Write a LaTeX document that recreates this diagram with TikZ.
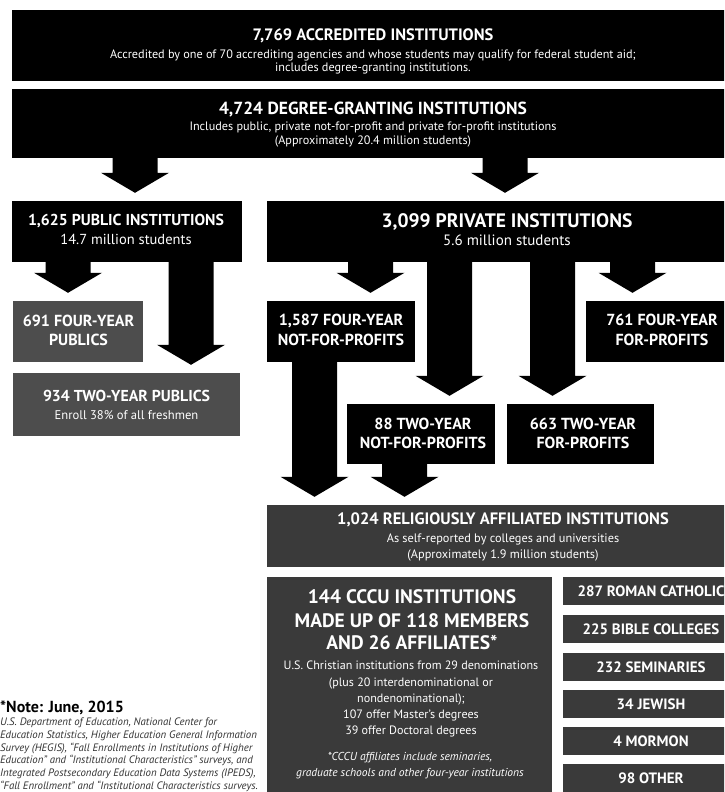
\documentclass[tikz,border=0pt]{standalone}
\usepackage{fontspec}
\setmainfont{PT Sans}
\usetikzlibrary{calc}
\definecolor{boxblack}{HTML}{000000}
\definecolor{midgray}{HTML}{4D4D4D}
\definecolor{deepgray}{HTML}{3A3A3A}
\definecolor{notegray}{HTML}{333333}
\tikzset{
  blackbox/.style={fill=boxblack, draw=none, inner sep=0pt},
  graybox/.style={fill=midgray, draw=none, inner sep=0pt},
  deepbox/.style={fill=deepgray, draw=none, inner sep=0pt},
  txt/.style={text=white, inner sep=0pt, anchor=base},
  midttl/.style={txt, font=\fontsize{16pt}{19pt}\selectfont\bfseries},
  subtxt/.style={txt, font=\fontsize{12.2pt}{14pt}\selectfont},
  reltxt/.style={txt, font=\fontsize{12.3pt}{14pt}\selectfont},
  cccuttl/.style={txt, font=\fontsize{19.5pt}{22pt}\selectfont\bfseries},
  cccubody/.style={txt, font=\fontsize{12.1pt}{14pt}\selectfont},
  cccuital/.style={txt, font=\fontsize{11.5pt}{14pt}\selectfont\itshape},
  sidettl/.style={txt, font=\fontsize{15pt}{17pt}\selectfont\bfseries},
  fatarrow/.style={fill=boxblack, draw=none},
  notettl/.style={text=black, inner sep=0pt, anchor=base west, font=\fontsize{16pt}{18pt}\selectfont\bfseries},
  notetxt/.style={text=notegray, inner sep=0pt, anchor=base west, font=\fontsize{10.8pt}{13pt}\selectfont\itshape},
}
% #1 = x of arrow axis, #2 = source node, #3 = target node
\newcommand\fatarrowdraw[3]{%
  \coordinate (ax) at (#1,0);
  \fill[fatarrow] ($(#2.south -| ax)+(-22.5,-1)$) -- ($(#3.north -| ax)+(-22.5,-28)$)
    -- ($(#3.north -| ax)+(-34,-28)$) -- ($(#3.north -| ax)+(0,-8)$)
    -- ($(#3.north -| ax)+(34,-28)$) -- ($(#3.north -| ax)+(22.5,-28)$)
    -- ($(#2.south -| ax)+(22.5,-1)$) -- cycle;
}
\begin{document}
\begin{tikzpicture}[x=1pt,y=-1pt]
\useasboundingbox (0,0) rectangle (724,792);
\fill[white] (0,0) rectangle (724,792);
\clip (0,0) rectangle (724,792);

% boxes
\node[blackbox, minimum width=728pt, minimum height=71pt] (b1) at (376,45.5) {};
\node[blackbox, minimum width=728pt, minimum height=69pt] (b2) at (376,123.5) {};
\node[blackbox, minimum width=230pt, minimum height=61pt] (pub) at (127,231.5) {};
\node[blackbox, minimum width=480pt, minimum height=61pt] (priv) at (507,231.5) {};
\node[graybox, minimum width=130pt, minimum height=61pt] (p4) at (78,331.5) {};
\node[graybox, minimum width=227pt, minimum height=63pt] (p2) at (126.5,404.5) {};
\node[blackbox, minimum width=148pt, minimum height=61pt] (n4) at (341,331.5) {};
\node[blackbox, minimum width=152pt, minimum height=61pt] (f4) at (662,331.5) {};
\node[blackbox, minimum width=148pt, minimum height=60pt] (n2) at (421,434) {};
\node[blackbox, minimum width=147pt, minimum height=60pt] (f2) at (580.5,434) {};
\node[deepbox, minimum width=473pt, minimum height=62pt] (rel) at (503.5,536) {};
\node[deepbox, minimum width=285pt, minimum height=223pt] (cccu) at (409.5,688.5) {};
\node[deepbox, minimum width=176pt, minimum height=28pt] (r1) at (651,591) {};
\node[deepbox, minimum width=176pt, minimum height=28pt] (r2) at (651,629) {};
\node[deepbox, minimum width=176pt, minimum height=28pt] (r3) at (651,667) {};
\node[deepbox, minimum width=176pt, minimum height=28pt] (r4) at (651,704) {};
\node[deepbox, minimum width=176pt, minimum height=28pt] (r5) at (651,741) {};
\node[deepbox, minimum width=176pt, minimum height=28pt] (r6) at (651,778) {};

% arrows
\fatarrowdraw{135}{b2}{pub}
\fatarrowdraw{505}{b2}{priv}
\fatarrowdraw{68}{pub}{p4}
\fatarrowdraw{191}{pub}{p2}
\fatarrowdraw{370.5}{priv}{n4}
\fatarrowdraw{449.5}{priv}{n2}
\fatarrowdraw{552.5}{priv}{f2}
\fatarrowdraw{632.5}{priv}{f4}
\fatarrowdraw{314.5}{n4}{rel}
\fatarrowdraw{404.5}{n2}{rel}

% texts
\node[txt, font=\fontsize{16.5pt}{19pt}\selectfont\bfseries] (b1t) at (373,40.8) {7,769 ACCREDITED INSTITUTIONS};
\node[subtxt] (b1s1) at (373,58.3) {Accredited by one of 70 accrediting agencies and whose students may qualify for federal student aid;};
\node[subtxt] (b1s2) at (373,71.3) {includes degree-granting institutions.};
\node[txt, font=\fontsize{17.5pt}{20pt}\selectfont\bfseries] (b2t) at (373,114) {4,724 DEGREE-GRANTING INSTITUTIONS};
\node[subtxt] (b2s1) at (373,130.3) {Includes public, private not-for-profit and private for-profit institutions};
\node[subtxt] (b2s2) at (373,144.3) {(Approximately 20.4 million students)};

\node[txt, font=\fontsize{15.8pt}{18pt}\selectfont\bfseries] (pubt) at (126,225.5) {1,625 PUBLIC INSTITUTIONS};
\node[txt, font=\fontsize{14.5pt}{17pt}\selectfont] (pubs) at (126,244) {14.7 million students};
\node[txt, font=\fontsize{19.5pt}{22pt}\selectfont\bfseries] (privt) at (507,227.8) {3,099 PRIVATE INSTITUTIONS};
\node[txt, font=\fontsize{15pt}{17pt}\selectfont] (privs) at (507,245) {5.6 million students};

\node[midttl] (p4a) at (78.5,326.6) {691 FOUR-YEAR};
\node[midttl] (p4b) at (78.5,345.6) {PUBLICS};
\node[txt, font=\fontsize{15.8pt}{18pt}\selectfont\bfseries] (p2a) at (126.5,401.5) {934 TWO-YEAR PUBLICS};
\node[txt, font=\fontsize{12.6pt}{15pt}\selectfont] (p2b) at (126.5,419.4) {Enroll 38\% of all freshmen};

\node[midttl] (n4a) at (341,325.6) {1,587 FOUR-YEAR};
\node[midttl] (n4b) at (341,345.6) {NOT-FOR-PROFITS};
\node[midttl] (f4a) at (662,325.6) {761 FOUR-YEAR};
\node[midttl] (f4b) at (662,345.6) {FOR-PROFITS};
\node[midttl] (n2a) at (423,429.6) {88 TWO-YEAR};
\node[midttl] (n2b) at (423,448.6) {NOT-FOR-PROFITS};
\node[midttl] (f2a) at (583,429.6) {663 TWO-YEAR};
\node[midttl] (f2b) at (583,448.6) {FOR-PROFITS};

\node[txt, font=\fontsize{16.5pt}{19pt}\selectfont\bfseries] (relt) at (503,524.8) {1,024 RELIGIOUSLY AFFILIATED INSTITUTIONS};
\node[reltxt] (rels1) at (503,542.3) {As self-reported by colleges and universities};
\node[reltxt] (rels2) at (503,558.3) {(Approximately 1.9 million students)};

\node[cccuttl] (ct1) at (412,603.8) {144 CCCU INSTITUTIONS};
\node[cccuttl] (ct2) at (412,627.8) {MADE UP OF 118 MEMBERS};
\node[cccuttl] (ct3) at (412,649.8) {AND 26 AFFILIATES*};
\node[cccubody] (cb1) at (411,669.2) {U.S. Christian institutions from 29 denominations};
\node[cccubody] (cb2) at (411,686.2) {(plus 20 interdenominational or};
\node[cccubody] (cb3) at (411,702.2) {nondenominational);};
\node[cccubody] (cb4) at (411,718.2) {107 offer Master’s degrees};
\node[cccubody] (cb5) at (411,734.2) {39 offer Doctoral degrees};
\node[cccuital] (ci1) at (410,760) {*CCCU affiliates include seminaries,};
\node[cccuital] (ci2) at (410,776) {graduate schools and other four-year institutions};

\node[sidettl] (r1t) at (651,596.2) {287 ROMAN CATHOLIC};
\node[sidettl] (r2t) at (651,634.2) {225 BIBLE COLLEGES};
\node[sidettl] (r3t) at (651,672.2) {232 SEMINARIES};
\node[sidettl] (r4t) at (651,709.2) {34 JEWISH};
\node[sidettl] (r5t) at (651,746.2) {4 MORMON};
\node[sidettl] (r6t) at (651,783.2) {98 OTHER};

% note
\node[notettl] (nt) at (0,712.6) {*Note: June, 2015};
\node[notetxt] (nl1) at (0,725.8) {U.S. Department of Education, National Center for};
\node[notetxt] (nl2) at (0,738.8) {Education Statistics, Higher Education General Information};
\node[notetxt] (nl3) at (0,751.8) {Survey (HEGIS), “Fall Enrollments in Institutions of Higher};
\node[notetxt] (nl4) at (0,763.8) {Education” and “Institutional Characteristics” surveys, and};
\node[notetxt] (nl5) at (0,776.8) {Integrated Postsecondary Education Data Systems (IPEDS),};
\node[notetxt] (nl6) at (0,789.8) {“Fall Enrollment” and “Institutional Characteristics surveys.};
\end{tikzpicture}
\end{document}
